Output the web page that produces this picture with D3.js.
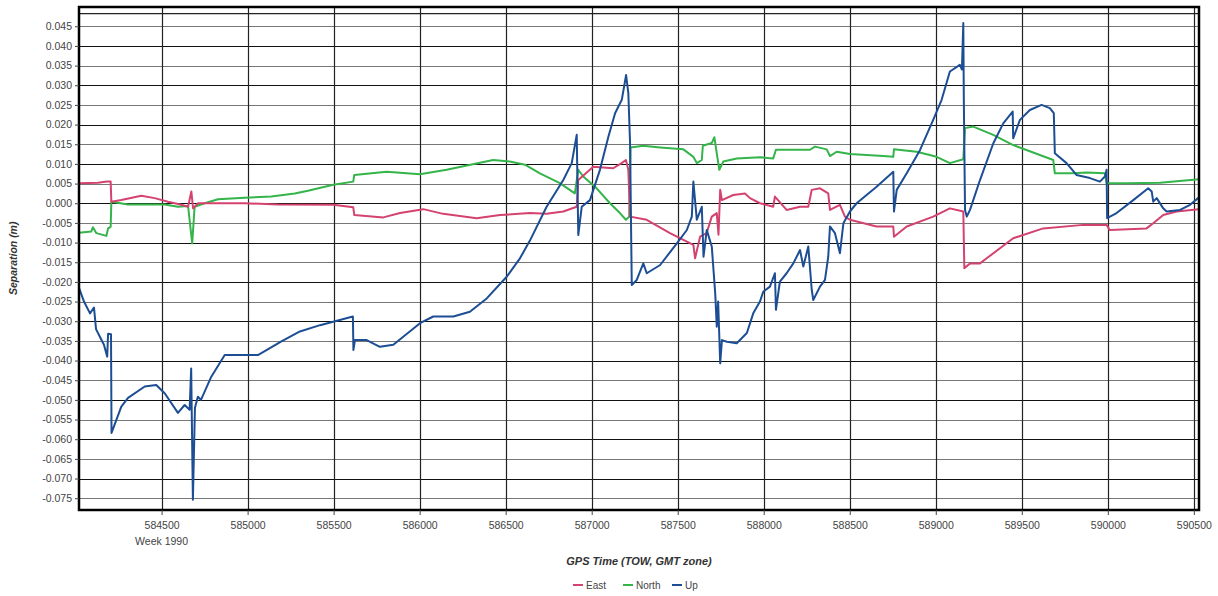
<html>
<head>
<meta charset="utf-8">
<style>
  body { margin: 0; background: #fff; }
  text { font-family: "Liberation Sans", Arial, sans-serif; }
</style>
</head>
<body>
<svg id="chart" width="1218" height="596"></svg>
<script src="https://d3js.org/d3.v7.min.js"></script>
<script>
// GPS TOW ticks (x) and separation ticks (y)
const xTicks = [584500, 585000, 585500, 586000, 586500, 587000, 587500, 588000, 588500, 589000, 589500, 590000, 590500]
const yTicks = [-0.075, -0.070, -0.065, -0.060, -0.055, -0.050, -0.045, -0.040, -0.035, -0.030, -0.025, -0.020, -0.015,
    -0.010, -0.005, 0.000, 0.005, 0.010, 0.015, 0.020, 0.025, 0.030, 0.035, 0.040, 0.045]
const seriesNames = ["East", "North", "Up"]
const seriesColors = ["#d4436f", "#34b44a", "#1d4e94"]

// [TOW, separation m]
const eastData = [
    [584020, 0.0051], [584130, 0.0052], [584184, 0.0055], [584204, 0.0055], [584208, 0.0004], [584266, 0.0008],
    [584382, 0.0019], [584460, 0.0013], [584537, 0.0004], [584615, -0.0004], [584654, -0.0009], [584673, 0.0030],
    [584683, -0.0013], [584712, 0.0000], [584983, 0.0000], [585177, -0.0003], [585498, -0.0004], [585614, -0.0010],
    [585620, -0.0030], [585789, -0.0036], [585886, -0.0025], [586021, -0.0015], [586137, -0.0027], [586331, -0.0038],
    [586467, -0.0030], [586641, -0.0025], [586738, -0.0027], [586835, -0.0021], [586913, -0.0009], [586922, 0.0059],
    [587009, 0.0093], [587125, 0.0089], [587174, 0.0102], [587199, 0.0110], [587213, 0.0085], [587223, -0.0034],
    [587320, -0.0042], [587455, -0.0076], [587533, -0.0093], [587591, -0.0106], [587601, -0.0140], [587630, -0.0085],
    [587668, -0.0076], [587698, -0.0034], [587727, -0.0025], [587737, -0.0080], [587747, 0.0034], [587757, 0.0008],
    [587823, 0.0021], [587891, 0.0025], [587920, 0.0013], [587978, 0.0000], [588055, -0.0009], [588065, 0.0017],
    [588133, -0.0017], [588211, -0.0009], [588259, -0.0009], [588279, 0.0034], [588327, 0.0038], [588375, 0.0025],
    [588385, -0.0017], [588443, -0.0004], [588472, -0.0034], [588501, -0.0042], [588656, -0.0059], [588753, -0.0059],
    [588757, -0.0085], [588831, -0.0059], [588985, -0.0034], [589082, -0.0013], [589160, -0.0021], [589166, -0.0165],
    [589199, -0.0153], [589257, -0.0153], [589296, -0.0140], [589450, -0.0089], [589624, -0.0064], [589857, -0.0055],
    [589993, -0.0055], [590011, -0.0068], [590225, -0.0064], [590264, -0.0051], [590322, -0.0030], [590400, -0.0021],
    [590530, -0.0015]
]

const northData = [
    [584020, -0.0075], [584091, -0.0072], [584101, -0.0061], [584121, -0.0076], [584179, -0.0083], [584189, -0.0064],
    [584204, -0.0060], [584208, 0.0004], [584305, -0.0003], [584518, -0.0003], [584595, -0.0009], [584654, -0.0007],
    [584678, -0.0102], [584692, -0.0009], [584750, 0.0000], [584828, 0.0010], [584983, 0.0014], [585138, 0.0017],
    [585274, 0.0025], [585351, 0.0032], [585498, 0.0047], [585614, 0.0055], [585620, 0.0072], [585808, 0.0080],
    [586002, 0.0074], [586157, 0.0085], [586427, 0.0110], [586524, 0.0106], [586612, 0.0098], [586699, 0.0076],
    [586815, 0.0051], [586902, 0.0025], [586922, 0.0085], [586951, 0.0068], [587029, 0.0038], [587106, 0.0000],
    [587164, -0.0025], [587199, -0.0042], [587218, -0.0034], [587226, 0.0142], [587300, 0.0146], [587398, 0.0142],
    [587533, 0.0137], [587591, 0.0118], [587611, 0.0102], [587640, 0.0110], [587646, 0.0146], [587698, 0.0153],
    [587713, 0.0168], [587727, 0.0127], [587742, 0.0085], [587765, 0.0106], [587843, 0.0114], [587978, 0.0117],
    [588055, 0.0114], [588071, 0.0136], [588269, 0.0136], [588298, 0.0144], [588366, 0.0137], [588385, 0.0120],
    [588424, 0.0131], [588501, 0.0125], [588695, 0.0120], [588753, 0.0118], [588757, 0.0137], [588889, 0.0131],
    [589005, 0.0118], [589082, 0.0102], [589160, 0.0112], [589170, 0.0191], [589218, 0.0195], [589334, 0.0174],
    [589450, 0.0148], [589683, 0.0110], [589692, 0.0076], [589799, 0.0076], [589876, 0.0078], [589983, 0.0076],
    [589993, 0.0051], [590110, 0.0051], [590304, 0.0052], [590530, 0.0061]
]

const upData = [
    [584020, -0.0215], [584049, -0.0250], [584084, -0.0280], [584107, -0.0265], [584119, -0.0320], [584142, -0.0340],
    [584165, -0.0360], [584184, -0.0390], [584189, -0.0332], [584206, -0.0333], [584209, -0.0584], [584266, -0.0517],
    [584305, -0.0495], [584402, -0.0466], [584469, -0.0462], [584518, -0.0483], [584595, -0.0533], [584634, -0.0513],
    [584663, -0.0525], [584672, -0.0420], [584682, -0.0754], [584694, -0.0520], [584711, -0.0492], [584729, -0.0500],
    [584789, -0.0441], [584867, -0.0386], [585060, -0.0386], [585194, -0.0352], [585304, -0.0326], [585421, -0.0310],
    [585612, -0.0288], [585615, -0.0373], [585624, -0.0348], [585692, -0.0348], [585769, -0.0365], [585847, -0.0360],
    [586002, -0.0305], [586079, -0.0288], [586196, -0.0288], [586292, -0.0276], [586390, -0.0242], [586506, -0.0187],
    [586583, -0.0140], [586641, -0.0095], [586738, -0.0009], [586835, 0.0059], [586884, 0.0102], [586913, 0.0174],
    [586922, -0.0081], [586942, -0.0009], [586990, 0.0008], [587048, 0.0085], [587097, 0.0169], [587136, 0.0229],
    [587175, 0.0263], [587200, 0.0326], [587213, 0.0280], [587223, 0.0153], [587233, -0.0208], [587262, -0.0195],
    [587300, -0.0153], [587320, -0.0178], [587398, -0.0157], [587495, -0.0102], [587553, -0.0068], [587582, -0.0034],
    [587591, 0.0055], [587611, -0.0042], [587640, -0.0009], [587650, -0.0136], [587669, -0.0068], [587698, -0.0110],
    [587718, -0.0229], [587727, -0.0314], [587735, -0.0250], [587747, -0.0407], [587757, -0.0348], [587786, -0.0352],
    [587843, -0.0356], [587902, -0.0330], [587939, -0.0280], [587978, -0.0250], [587997, -0.0225], [588036, -0.0212],
    [588065, -0.0178], [588071, -0.0271], [588094, -0.0199], [588133, -0.0178], [588172, -0.0153], [588211, -0.0119],
    [588230, -0.0161], [588259, -0.0110], [588279, -0.0220], [588288, -0.0246], [588327, -0.0212], [588356, -0.0195],
    [588375, -0.0136], [588385, -0.0059], [588414, -0.0076], [588443, -0.0127], [588463, -0.0051], [588501, -0.0021],
    [588540, 0.0000], [588656, 0.0042], [588753, 0.0080], [588757, -0.0021], [588773, 0.0034], [588831, 0.0076],
    [588908, 0.0135], [588985, 0.0212], [589034, 0.0263], [589082, 0.0335], [589140, 0.0352], [589152, 0.0340],
    [589160, 0.0458], [589163, 0.0263], [589170, -0.0017], [589180, -0.0034], [589199, -0.0017], [589257, 0.0059],
    [589334, 0.0152], [589392, 0.0203], [589447, 0.0233], [589450, 0.0165], [589489, 0.0212], [589547, 0.0237],
    [589615, 0.0250], [589663, 0.0242], [589686, 0.0229], [589692, 0.0127], [589760, 0.0102], [589818, 0.0072],
    [589896, 0.0064], [589954, 0.0055], [589983, 0.0068], [589993, 0.0085], [589996, -0.0038], [590051, -0.0025],
    [590148, 0.0008], [590235, 0.0038], [590255, 0.0030], [590264, 0.0004], [590284, 0.0013], [590322, -0.0013],
    [590342, -0.0021], [590420, -0.0017], [590478, -0.0004], [590530, 0.0015]
]

const weekLabel = "Week 1990"
const topLine = 0.0482

let svg = d3.select("#chart")
let margin = { left: 79, top: 7, right: 19, bottom: 86 }
let width = 1218 - margin.left - margin.right
let height = 596 - margin.top - margin.bottom

let x = d3.scaleLinear().domain([584020, 590530]).range([0, width])
let y = d3.scaleLinear().domain([-0.078, 0.0499]).range([height, 0])

let g = svg.append("g").attr("transform", `translate(${margin.left},${margin.top})`)

// grid
g.selectAll(".hgrid").data(yTicks).enter().append("line")
    .attr("x1", 0).attr("x2", width)
    .attr("y1", d => Math.round(y(d)) + 0.5).attr("y2", d => Math.round(y(d)) + 0.5)
    .attr("stroke", d => Math.round(d * 1000) % 10 === 0 ? "#111" : "#777")
    .attr("stroke-width", 1.2)
g.append("line")
    .attr("x1", 0).attr("x2", width)
    .attr("y1", y(topLine)).attr("y2", y(topLine))
    .attr("stroke", "#222").attr("stroke-width", 1.2)
g.selectAll(".vgrid").data(xTicks).enter().append("line")
    .attr("x1", d => Math.round(x(d)) + 0.5).attr("x2", d => Math.round(x(d)) + 0.5)
    .attr("y1", 0).attr("y2", height)
    .attr("stroke", "#222").attr("stroke-width", 1.2)

// lines
g.append("clipPath").attr("id", "clip").append("rect").attr("width", width).attr("height", height)
let line = d3.line().x(d => x(d[0])).y(d => y(d[1]))
let allSeries = [northData, eastData, upData]
let colorOf = [seriesColors[1], seriesColors[0], seriesColors[2]]
g.append("g").attr("clip-path", "url(#clip)")
    .selectAll("path").data(allSeries).enter().append("path")
    .attr("d", line)
    .attr("fill", "none")
    .attr("stroke", (d, i) => colorOf[i])
    .attr("stroke-width", 2)
    .attr("stroke-linejoin", "round")

// frame
g.append("rect").attr("width", width).attr("height", height)
    .attr("fill", "none").attr("stroke", "#000").attr("stroke-width", 2.5)

// axes
let fmt = d3.format(".3f")
let yAxis = d3.axisLeft(y).tickValues(yTicks).tickSize(4).tickFormat(d => fmt(d).replace("\u2212", "-"))
let yG = g.append("g").call(yAxis)
yG.select(".domain").remove()
yG.selectAll("text").attr("font-size", "10.5px").attr("fill", "#444").attr("font-family", "Liberation Sans, Arial")
yG.selectAll("line").attr("stroke", "#444")

let xAxis = d3.axisBottom(x).tickValues(xTicks).tickSize(5).tickFormat(d => d)
let xG = g.append("g").attr("transform", `translate(0,${height})`).call(xAxis)
xG.select(".domain").remove()
xG.selectAll("text").attr("font-size", "10.5px").attr("fill", "#444").attr("dy", "1.05em").attr("font-family", "Liberation Sans, Arial")
xG.selectAll("line").attr("stroke", "#444")
xG.append("text").attr("x", x(xTicks[0])).attr("y", 35)
    .attr("text-anchor", "middle").attr("fill", "#444").attr("font-size", "10.5px")
    .text(weekLabel)

// titles
svg.append("text")
    .attr("transform", `translate(17,${margin.top + y(-0.014)}) rotate(-90)`)
    .attr("text-anchor", "middle")
    .attr("font-size", "10.5px").attr("font-style", "italic").attr("font-weight", "bold").attr("fill", "#333")
    .text("Separation (m)")
svg.append("text")
    .attr("x", 639).attr("y", 565)
    .attr("text-anchor", "middle")
    .attr("font-size", "11px").attr("font-style", "italic").attr("font-weight", "bold").attr("fill", "#333")
    .text("GPS Time (TOW, GMT zone)")

// legend
let legend = svg.append("g").attr("transform", "translate(573,585)")
let offsets = [0, 50, 99]
seriesNames.forEach((name, i) => {
    let item = legend.append("g").attr("transform", `translate(${offsets[i]},0)`)
    item.append("line").attr("x1", 0).attr("x2", 10).attr("y1", 0).attr("y2", 0)
        .attr("stroke", seriesColors[i]).attr("stroke-width", 2)
    item.append("text").attr("x", 13).attr("y", 3.5).attr("font-size", "10px").attr("fill", "#444").text(name)
})
</script>
</body>
</html>
